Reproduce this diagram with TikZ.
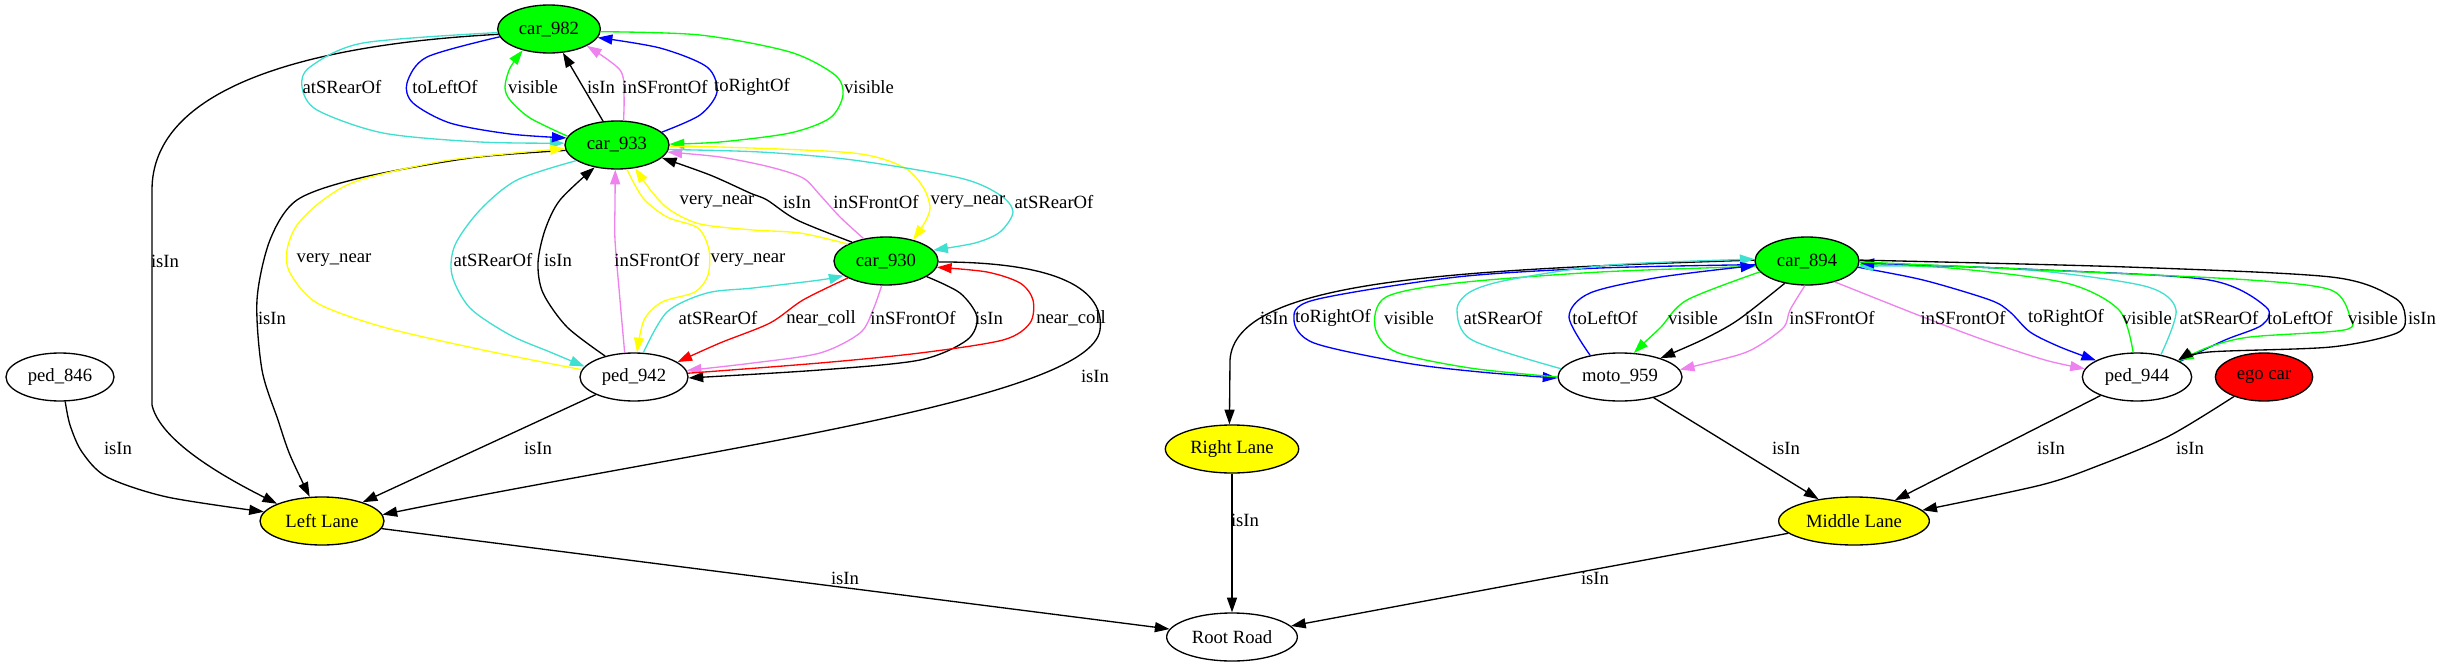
\documentclass[tikz,border=0pt]{standalone}
\usepackage{fontspec}
\setmainfont{Liberation Serif}
\usetikzlibrary{shapes.geometric,arrows.meta}
\definecolor{gvgreen}{HTML}{00FF00}
\definecolor{gvyellow}{HTML}{FFFF00}
\definecolor{gvred}{HTML}{FF0000}
\definecolor{gvblue}{HTML}{0000FF}
\definecolor{gvturq}{HTML}{40E0D0}
\definecolor{gvviolet}{HTML}{EE82EE}
\tikzset{
  nd/.style={ellipse, draw=black, line width=1pt, minimum height=36pt, inner sep=0pt, font=\fontsize{14}{16}\selectfont},
  e/.style={line width=1pt, -{Triangle[length=11pt,width=7.5pt]}},
  lb/.style={font=\fontsize{14}{16}\selectfont, inner sep=0pt},
}
\begin{document}
\begin{tikzpicture}[x=0.75pt,y=-0.75pt]
\useasboundingbox (0,0) rectangle (2441,667);
% nodes
\node[nd, fill=gvgreen, minimum width=77pt] (car982) at (549,29) {car\_982};
\node[nd, fill=gvgreen, minimum width=78pt] (car933) at (617,145) {car\_933};
\node[nd, fill=gvgreen, minimum width=78pt] (car930) at (886,261) {car\_930};
\node[nd, minimum width=81pt] (ped942) at (634,377) {ped\_942};
\node[nd, minimum width=81pt] (ped846) at (60,377) {ped\_846};
\node[nd, fill=gvyellow, minimum width=93pt] (LL) at (322,521) {Left Lane};
\node[nd, minimum width=98pt] (RR) at (1232,637) {Root Road};
\node[nd, fill=gvyellow, minimum width=100pt] (RL) at (1232,449) {Right Lane};
\node[nd, fill=gvyellow, minimum width=113pt] (ML) at (1854,521) {Middle Lane};
\node[nd, fill=gvgreen, minimum width=78pt] (car894) at (1807,261) {car\_894};
\node[nd, minimum width=93pt] (moto) at (1620,377) {moto\_959};
\node[nd, minimum width=82pt] (ped944) at (2137,377) {ped\_944};
\node[nd, fill=gvred, minimum width=73pt] (ego) at (2264,377) {ego car};

% car_982 / car_933
\draw[e] (car982.186) .. controls (300,45) and (152,90) .. (152,190) -- (152,405) .. controls (160,440) and (220,475) .. (LL.159);
\draw[e,gvturq] plot[smooth] coordinates {(car982.184) (363,43) (310,67) (302,87) (317,110) (383,133) (480,142) (car933.178)};
\draw[e,gvblue] plot[smooth] coordinates {(car982.189) (427,57) (407,83) (413,103) (450,123) (510,134) (car933.172)};
\draw[e,gvgreen] plot[smooth] coordinates {(car933.170) (530,118) (510,100) (505,87) (510,68) (car982.219)};
\draw[e] (car933) -- (car982);
\draw[e,gvviolet] plot[smooth] coordinates {(car933.75) (624,95) (620,70) (car982.336)};
\draw[e,gvblue] plot[smooth] coordinates {(car933.16) (700,115) (717,92) (707,67) (660,48) (car982.350)};
\draw[e,gvgreen] plot[smooth] coordinates {(car982.357) (700,35) (790,52) (835,75) (843,95) (830,118) (790,133) (720,142) (car933.1)};

% car_933 / ped_942 / car_930
\draw[e] plot[smooth] coordinates {(car933.186) (470,158) (360,178) (297,200) (270,240) (257,300) (262,370) (278,420) (290,455) (LL.117)};
\draw[e,gvyellow] plot[smooth] coordinates {(ped942.172) (483,350) (383,327) (317,303) (290,273) (287,250) (297,225) (323,200) (360,180) (450,160) (car933.184)};
\draw[e,gvturq] plot[smooth] coordinates {(car933.201) (517,180) (480,210) (455,245) (452,275) (470,308) (510,335) (550,352) (ped942.168)};
\draw[e] plot[smooth] coordinates {(ped942.144) (567,327) (543,293) (538,263) (545,230) (560,200) (car933.225)};
\draw[e,gvviolet] plot[smooth] coordinates {(ped942.111) (620,300) (615,240) (615,205) (car933.266)};
\draw[e,gvyellow] plot[smooth] coordinates {(car933.292) (643,198) (667,217) (698,228) (709,250) (708,275) (695,292) (662,302) (644,320) (ped942.83)};
\draw[e,gvyellow] plot[smooth] coordinates {(car930.156) (800,233) (753,230) (700,224) (670,210) (652,192) (car933.308)};
\draw[e] plot[smooth] coordinates {(car930.151) (797,220) (767,200) (750,193) (710,175) (car933.344)};
\draw[e,gvviolet] plot[smooth] coordinates {(car930.135) (840,217) (820,195) (803,178) (770,167) (720,157) (car933.352)};
\draw[e,gvyellow] plot[smooth] coordinates {(car933.358) (720,147) (853,153) (903,167) (923,187) (930,207) (925,222) (car930.38)};
\draw[e,gvturq] plot[smooth] coordinates {(car933.355) (760,152) (853,160) (960,178) (1000,195) (1013,212) (1000,232) (975,243) (car930.13)};
\draw[e,gvturq] plot[smooth] coordinates {(ped942.69) (667,312) (707,293) (753,288) (820,280) (car930.199)};
\draw[e,gvred] plot[smooth] coordinates {(car930.204) (803,300) (770,323) (720,343) (ped942.19)};
\draw[e,gvviolet] plot[smooth] coordinates {(car930.260) (873,310) (860,333) (820,353) (753,363) (ped942.7)};
\draw[e] plot[smooth] coordinates {(car930.339) (960,293) (977,317) (967,340) (920,360) (820,370) (ped942.359)};
\draw[e,gvred] plot[smooth] coordinates {(ped942.4) (820,363) (920,353) (1003,340) (1030,323) (1033,300) (1020,283) (987,272) (car930.353)};
\draw[e] (car930.359) .. controls (1060,262) and (1105,290) .. (1100,330) .. controls (1090,400) and (700,450) .. (LL.6);
\draw[e] (ped942) -- (LL);
\draw[e] plot[smooth] coordinates {(ped846.282) (70,425) (82,452) (107,477) (167,497) (LL.171)};
\draw[e] (LL) -- (RR);

% right component
\draw[e] (RL) -- (RR);
\draw[e] (ML) -- (RR);
\draw[e] (moto) -- (ML);
\draw[e] (ped944) -- (ML);
\draw[e] plot[smooth] coordinates {(ego.213) (2169,436) (2100,465) (2041,485) (ML.9)};
\draw[e] (car894.179) .. controls (1450,270) and (1235,280) .. (1230,360) -- (RL.96);
\draw[e,gvblue] plot[smooth] coordinates {(car894.184) (1600,268) (1457,277) (1314,300) (1294,320) (1314,343) (1406,363) (1480,372) (moto.181)};
\draw[e,gvgreen] plot[smooth] coordinates {(moto.180) (1470,368) (1396,352) (1375,327) (1386,297) (1457,283) (1600,272) (car894.186)};
\draw[e,gvturq] plot[smooth] coordinates {(moto.172) (1472,340) (1457,310) (1470,292) (1508,280) (1610,265) (car894.178)};
\draw[e,gvblue] plot[smooth] coordinates {(moto.144) (1569,317) (1590,293) (1661,277) (car894.185)};
\draw[e,gvgreen] plot[smooth] coordinates {(car894.193) (1687,300) (1661,327) (1645,342) (moto.60)};
\draw[e] plot[smooth] coordinates {(car894.225) (1738,320) (1702,340) (moto.25)};
\draw[e,gvviolet] plot[smooth] coordinates {(car894.265) (1790,310) (1784,327) (1760,345) (1738,355) (moto.7)};
\draw[e,gvviolet] plot[smooth] coordinates {(car894.323) (1923,317) (1984,340) (2045,360) (ped944.171)};
\draw[e,gvblue] plot[smooth] coordinates {(car894.353) (1923,280) (1990,300) (2010,312) (2030,332) (2060,347) (ped944.158)};
\draw[e,gvgreen] plot[smooth] coordinates {(ped944.99) (2119,310) (2066,283) (1950,268) (car894.356)};
\draw[e,gvturq] plot[smooth] coordinates {(ped944.43) (2176,310) (2148,287) (2050,272) (1950,266) (car894.354)};
\draw[e,gvblue] plot[smooth] coordinates {(ped944.20) (2225,340) (2262,325) (2266,307) (2209,280) (2045,270) (car894.358)};
\draw[e,gvgreen] plot[smooth] coordinates {(car894.359) (2086,272) (2250,280) (2331,290) (2350,317) (2344,330) (2250,337) (2209,347) (ped944.21)};
\draw[e] plot[smooth] coordinates {(car894.1) (2127,267) (2331,277) (2393,297) (2405,315) (2397,333) (2331,347) (2209,352) (ped944.22)};

% labels
\node[lb] (t1) at (165,261) {isIn};
\node[lb] (t2) at (342,87) {atSRearOf};
\node[lb] (t3) at (445,87) {toLeftOf};
\node[lb] (t4) at (533,87) {visible};
\node[lb] (t5) at (601,87) {isIn};
\node[lb] (t6) at (665,87) {inSFrontOf};
\node[lb] (t7) at (752,87) {toRightOf};
\node[lb] (t8) at (869,87) {visible};
\node[lb] (t9) at (717,202) {very\_near};
\node[lb] (t10) at (797,202) {isIn};
\node[lb] (t11) at (876,202) {inSFrontOf};
\node[lb] (t12) at (968,202) {very\_near};
\node[lb] (t13) at (1054,202) {atSRearOf};
\node[lb] (t14) at (334,260) {very\_near};
\node[lb] (t15) at (493,260) {atSRearOf};
\node[lb] (t16) at (558,260) {isIn};
\node[lb] (t17) at (657,260) {inSFrontOf};
\node[lb] (t18) at (748,260) {very\_near};
\node[lb] (t19) at (272,318) {isIn};
\node[lb] (t20) at (718,318) {atSRearOf};
\node[lb] (t21) at (821,318) {near\_coll};
\node[lb] (t22) at (913,318) {inSFrontOf};
\node[lb] (t23) at (989,318) {isIn};
\node[lb] (t24) at (1071,318) {near\_coll};
\node[lb] (t25) at (1095,376) {isIn};
\node[lb] (t26) at (538,448) {isIn};
\node[lb] (t27) at (118,448) {isIn};
\node[lb] (t28) at (845,578) {isIn};
\node[lb] (t29) at (1245,520) {isIn};
\node[lb] (t30) at (1595,578) {isIn};
\node[lb] (t31) at (1786,448) {isIn};
\node[lb] (t32) at (2051,448) {isIn};
\node[lb] (t33) at (2190,448) {isIn};
\node[lb] (t34) at (1274,318) {isIn};
\node[lb] (t35) at (1333,318) {toRightOf};
\node[lb] (t36) at (1409,318) {visible};
\node[lb] (t37) at (1503,318) {atSRearOf};
\node[lb] (t38) at (1605,318) {toLeftOf};
\node[lb] (t39) at (1693,318) {visible};
\node[lb] (t40) at (1759,318) {isIn};
\node[lb] (t41) at (1832,318) {inSFrontOf};
\node[lb] (t42) at (1963,318) {inSFrontOf};
\node[lb] (t43) at (2066,318) {toRightOf};
\node[lb] (t44) at (2147,318) {visible};
\node[lb] (t45) at (2219,318) {atSRearOf};
\node[lb] (t46) at (2300,318) {toLeftOf};
\node[lb] (t47) at (2373,318) {visible};
\node[lb] (t48) at (2422,318) {isIn};
\end{tikzpicture}
\end{document}
